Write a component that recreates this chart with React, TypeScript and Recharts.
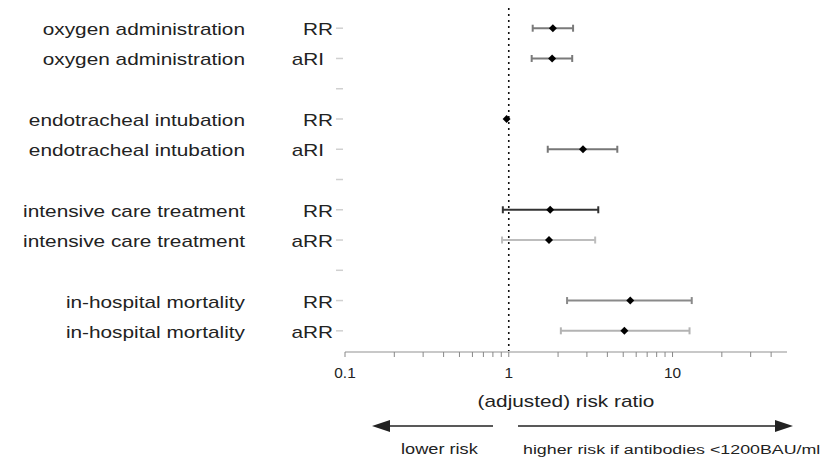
import React from 'react';
import { ScatterChart, Scatter, XAxis, YAxis, ErrorBar, ReferenceLine } from 'recharts';

// rows from top to bottom; empty strings are spacer rows
const outcomes = [
  'oxygen administration', 'oxygen administration', '',
  'endotracheal intubation', 'endotracheal intubation', '',
  'intensive care treatment', 'intensive care treatment', '',
  'in-hospital mortality', 'in-hospital mortality',
];
const measures = ['RR', 'aRI', '', 'RR', 'aRI', '', 'RR', 'aRR', '', 'RR', 'aRR'];
const estimates = [1.86, 1.84, null, 0.97, 2.84, null, 1.79, 1.76, null, 5.52, 5.08];
const lowerCI = [1.4, 1.38, null, null, 1.73, null, 0.92, 0.91, null, 2.27, 2.08];
const upperCI = [2.47, 2.44, null, null, 4.6, null, 3.52, 3.37, null, 13.1, 12.7];
const barTones = ['#7a7a7a', '#7a7a7a', '', '', '#777777', '', '#333333', '#bdbdbd', '', '#8a8a8a', '#b3b3b3'];

const xTicks = [0.1, 0.2, 0.3, 0.4, 0.5, 0.6, 0.7, 0.8, 0.9, 1, 2, 3, 4, 5, 6, 7, 8, 9, 10, 20, 30, 40];
const xLabels = ['0.1', '1', '10'];
const rowTicks = outcomes.map((_, i) => i);

const FONT = '"Liberation Sans", Arial, Helvetica, sans-serif';
const INK = '#222';

const points = estimates
  .map((est, i) => (est == null ? null : {
    x: est,
    y: i,
    err: lowerCI[i] == null ? null : [est - (lowerCI[i] as number), (upperCI[i] as number) - est],
    tone: barTones[i],
  }))
  .filter(Boolean) as { x: number; y: number; err: number[] | null; tone: string }[];

const tones = Array.from(new Set(points.filter(p => p.err).map(p => p.tone)));
const noBar = points.filter(p => !p.err);

const Diamond = (props: any) => {
  const { cx, cy } = props;
  const r = 4;
  return <path d={`M${cx},${cy - r}L${cx + r},${cy}L${cx},${cy + r}L${cx - r},${cy}Z`} fill="#000" />;
};

const RowTick = (props: any) => {
  const { y, payload } = props;
  const i = payload.value;
  const name = outcomes[i];
  const m = measures[i];
  return (
    <g>
      <line x1={336} x2={343} y1={y} y2={y} stroke="#d0d0d0" strokeWidth={1.5} />
      {name && (
        <text transform={`translate(245,${y + 7}) scale(1.3,1)`} textAnchor="end" fontSize={16} fill={INK} fontFamily={FONT}>
          {name}
        </text>
      )}
      {m && (
        <text transform={`translate(${m === 'aRI' ? 324 : 333},${y + 7}) scale(1.3,1)`} textAnchor="end" fontSize={16} fill={INK} fontFamily={FONT}>
          {m}
        </text>
      )}
    </g>
  );
};

const RatioTick = (props: any) => {
  const { x, y, payload } = props;
  const label = String(payload.value);
  if (!xLabels.includes(label)) return <g />;
  return (
    <text transform={`translate(${x},${y + 19}) scale(1.1,1)`} textAnchor="middle" fontSize={14} fill={INK} fontFamily={FONT}>
      {label}
    </text>
  );
};

export default function App() {
  return (
    <div style={{ position: 'absolute', left: 0, top: 0, width: 828, height: 461, background: '#fff' }}>
      <ScatterChart width={828} height={461} margin={{ top: 4, right: 41, bottom: 68, left: 0 }}>
        <XAxis
          type="number"
          dataKey="x"
          scale="log"
          domain={[0.1, 50]}
          ticks={xTicks}
          interval={0}
          allowDataOverflow
          height={41}
          axisLine={{ stroke: '#c8c8c8', strokeWidth: 2 }}
          tickLine={{ stroke: '#888' }}
          tickSize={5}
          tick={<RatioTick />}
        />
        <YAxis
          type="number"
          dataKey="y"
          reversed
          domain={[-0.8, 10.7]}
          ticks={rowTicks}
          interval={0}
          width={345}
          axisLine={false}
          tickLine={false}
          tick={<RowTick />}
        />
        <ReferenceLine x={1} stroke="#111" strokeWidth={1.6} strokeDasharray="2 4" />
        {tones.map(tone => (
          <Scatter key={tone} data={points.filter(p => p.err && p.tone === tone)} shape={<Diamond />} isAnimationActive={false}>
            <ErrorBar dataKey="err" direction="x" stroke={tone} strokeWidth={2} width={3.5} />
          </Scatter>
        ))}
        <Scatter data={noBar} shape={<Diamond />} isAnimationActive={false} />
      </ScatterChart>
      <svg width={828} height={461} style={{ position: 'absolute', left: 0, top: 0, pointerEvents: 'none' }}>
        <text transform="translate(566,407) scale(1.3,1)" textAnchor="middle" fontSize={16} fill={INK} fontFamily={FONT}>
          (adjusted) risk ratio
        </text>
        <line x1={493} x2={384} y1={426} y2={426} stroke={INK} strokeWidth={1.5} />
        <polygon points="372,426 390,420 390,432" fill={INK} />
        <line x1={518} x2={780} y1={426} y2={426} stroke={INK} strokeWidth={1.5} />
        <polygon points="793,426 775,420 775,432" fill={INK} />
        <text transform="translate(401,454) scale(1.3,1)" fontSize={14} fill={INK} fontFamily={FONT}>
          lower risk
        </text>
        <text transform="translate(523,454) scale(1.3,1)" fontSize={13.7} fill={INK} fontFamily={FONT}>
          higher risk if antibodies &lt;1200BAU/ml
        </text>
      </svg>
    </div>
  );
}
